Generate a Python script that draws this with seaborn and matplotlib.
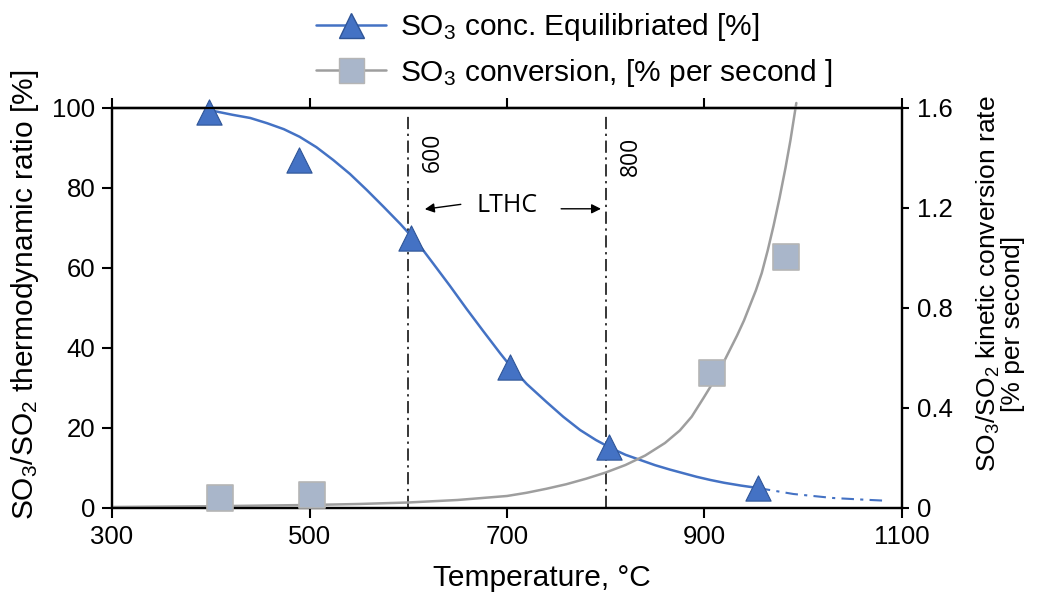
import seaborn as sns
import matplotlib.pyplot as plt
from matplotlib.lines import Line2D

# equilibrium SO3 concentration (left axis, %)
eq_temp = [398, 489, 603, 703, 803, 954]
eq_val = [99, 87, 67.5, 35.3, 15.3, 5]

eq_curve_temp = [398, 422, 440, 457, 474, 490, 507, 524, 541, 558, 575, 592, 603, 614,
                 625, 642, 659, 676, 693, 703, 720, 740, 757, 774, 790, 805, 820, 835,
                 850, 865, 880, 892, 906, 920, 937, 954]
eq_curve_val = [99.5, 98.3, 97.5, 96.2, 94.7, 92.8, 90.2, 87, 83.5, 79.5, 75.3, 71, 68,
                64.8, 61.2, 55.6, 49.8, 44.2, 38.7, 35.6, 31, 26.5, 22.8, 19.5, 17, 15,
                13.3, 12, 10.7, 9.6, 8.6, 7.8, 7, 6.3, 5.6, 5]

eq_ext_temp = [954, 990, 1030, 1060, 1085]
eq_ext_val = [5, 3.5, 2.5, 2.1, 1.8]

# kinetic conversion rate (right axis, % per second)
rate_temp = [409, 503, 908, 983]
rate_val = [0.04, 0.052, 0.54, 1.004]

rate_curve_temp = [300, 400, 500, 550, 600, 650, 700, 720, 740, 760, 780, 800, 820, 840,
                   860, 875, 887, 899, 906, 913, 919, 926, 933, 940, 946, 952, 958, 964,
                   970, 976, 982, 987, 993]
rate_curve_val = [0.004, 0.007, 0.012, 0.016, 0.022, 0.032, 0.048, 0.061, 0.077, 0.095,
                  0.117, 0.142, 0.172, 0.21, 0.26, 0.31, 0.365, 0.44, 0.485, 0.535, 0.58,
                  0.635, 0.69, 0.75, 0.81, 0.87, 0.94, 1.03, 1.13, 1.24, 1.36, 1.47, 1.62]

lthc_bounds = [600, 800]
x_ticks = [300, 500, 700, 900, 1100]
left_ticks = [0, 20, 40, 60, 80, 100]
right_ticks = [0, 0.4, 0.8, 1.2, 1.6]
right_ticklabels = ['0', '0.4', '0.8', '1.2', '1.6']

sns.set_theme(style='white')
plt.rcParams['font.family'] = ['Liberation Sans', 'DejaVu Sans']
plt.rcParams['mathtext.fontset'] = 'custom'
plt.rcParams['mathtext.rm'] = 'Liberation Sans'
plt.rcParams['mathtext.default'] = 'regular'
plt.rcParams['text.color'] = 'black'
plt.rcParams['xtick.color'] = 'black'
plt.rcParams['ytick.color'] = 'black'

blue = '#4472C4'
blue_edge = '#2F5597'
grey = '#9E9E9E'
sq_face = '#A9B6CA'
sq_edge = '#B5B5B5'

fig, ax = plt.subplots(figsize=(10.43, 5.94), dpi=100)
fig.subplots_adjust(left=0.1074, right=0.8648, bottom=0.1448, top=0.8182)
ax2 = ax.twinx()

# equilibrium curve
sns.lineplot(x=eq_curve_temp, y=eq_curve_val, ax=ax, color=blue, lw=1.8, sort=False)
ax.plot(eq_ext_temp, eq_ext_val, color=blue, lw=1.5, dashes=(6, 3, 1.5, 3))
sns.scatterplot(x=eq_temp, y=eq_val, ax=ax, marker='^', s=330, color=blue,
                edgecolor=blue_edge, linewidth=0.8, zorder=5, clip_on=False)

# kinetic curve
sns.lineplot(x=rate_curve_temp, y=rate_curve_val, ax=ax2, color=grey, lw=1.8,
             sort=False, clip_on=False)
sns.scatterplot(x=rate_temp, y=rate_val, ax=ax2, marker='s', s=340, color=sq_face,
                edgecolor=sq_edge, linewidth=1.2, zorder=5, clip_on=False)

# LTHC window
for b in lthc_bounds:
    ax.plot([b, b], [0, 98], color='black', lw=1.1, dashes=(8, 3, 1.5, 3))
ax.text(625, 89, '600', rotation=90, ha='center', va='center', fontsize=16.5,
        family='Open Sans')
ax.text(825, 88, '800', rotation=90, ha='center', va='center', fontsize=16.5,
        family='Open Sans')
ax.text(700, 75.5, 'LTHC', ha='center', va='center', fontsize=18, family='Open Sans')
ax.annotate('', xy=(614, 74.6), xytext=(656, 76),
            arrowprops=dict(arrowstyle='-|>', color='black', lw=1, mutation_scale=14))
ax.annotate('', xy=(798, 74.8), xytext=(752, 74.8),
            arrowprops=dict(arrowstyle='-|>', color='black', lw=1, mutation_scale=14))

ax.set_xlim(300, 1100)
ax.set_ylim(0, 100)
ax2.set_ylim(0, 1.6)
ax.set_xticks(x_ticks)
ax.set_yticks(left_ticks)
ax2.set_yticks(right_ticks)
ax2.set_yticklabels(right_ticklabels)

for a in (ax, ax2):
    for s in a.spines.values():
        s.set_color('black')
        s.set_linewidth(1.6)
ax.tick_params(axis='x', direction='out', length=7, width=1.5, labelsize=18.5,
               bottom=True, pad=5, colors='black')
ax.tick_params(axis='y', direction='out', length=7, width=1.5, labelsize=18.5,
               left=True, pad=5, colors='black')
ax2.tick_params(axis='y', direction='out', length=5, width=1.5, labelsize=18.5,
                right=True, pad=6, colors='black')
top = ax.secondary_xaxis('top')
top.set_xticks(x_ticks)
top.tick_params(direction='out', length=7, width=1.5, labeltop=False, colors='black')
top.spines['top'].set_linewidth(1.6)
top.spines['top'].set_color('black')

ax.set_xlabel('')
ax.set_ylabel('')
ax.text(0.544, -0.196, 'Temperature, °C', transform=ax.transAxes, fontsize=21.5,
        ha='center', va='baseline')
ax.text(-0.110, 0.532, 'SO$_3$/SO$_2$ thermodynamic ratio [%]', transform=ax.transAxes,
        fontsize=21.5, rotation=90, ha='center', va='center')
ax.text(1.110, 0.56, 'SO$_3$/SO$_2$ kinetic conversion rate', transform=ax.transAxes,
        fontsize=19, rotation=90, ha='center', va='center')
ax.text(1.140, 0.46, '[% per second]', transform=ax.transAxes,
        fontsize=19, rotation=90, ha='center', va='center')

handles = [
    Line2D([], [], color=blue, lw=1.8, marker='^', markersize=18,
           markerfacecolor=blue, markeredgecolor=blue_edge),
    Line2D([], [], color=grey, lw=1.8, marker='s', markersize=18,
           markerfacecolor=sq_face, markeredgecolor=sq_edge),
]
labels = ['SO$_3$ conc. Equilibriated [%]', 'SO$_3$ conversion, [% per second ]']
fig.legend(handles, labels, loc='center left', bbox_to_anchor=(0.303, 0.916),
           frameon=False, borderpad=0, borderaxespad=0, fontsize=21.5,
           handlelength=2.33, handletextpad=0.47, labelspacing=0.45)

fig.savefig('out.png', dpi=100)
